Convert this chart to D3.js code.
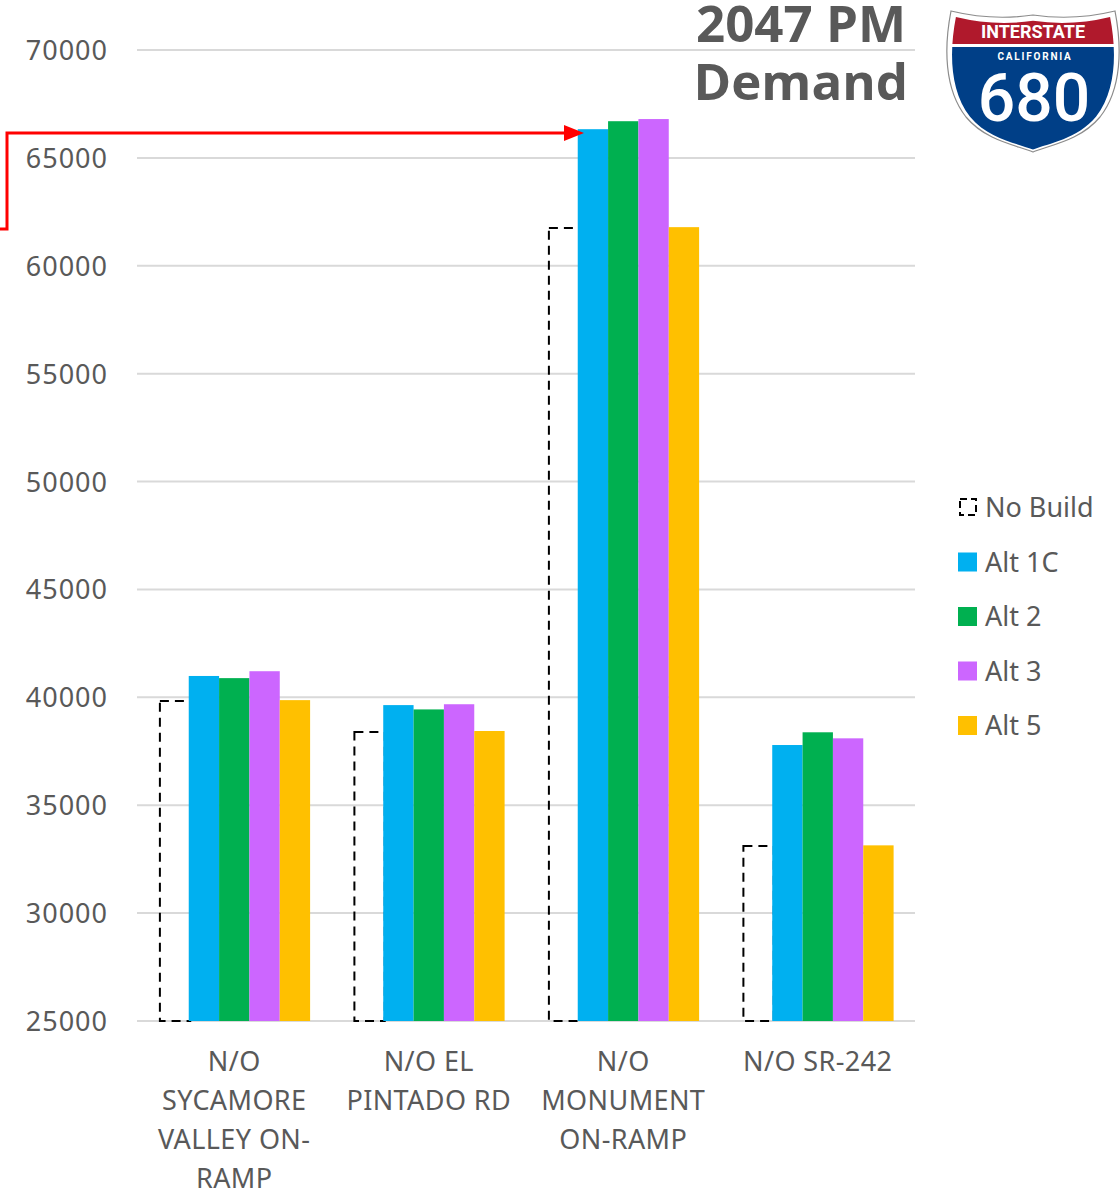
<!DOCTYPE html>
<html>
<head>
<meta charset="utf-8">
<script src="https://d3js.org/d3.v7.min.js"></script>
<style>
	body { margin: 0; background: #fff; }
	svg text { font-family: "Noto Sans", "Open Sans", sans-serif; }
	.tick-label { font-size: 27px; fill: #595959; letter-spacing: 1px; }
	.cat-label { font-size: 27px; fill: #595959; letter-spacing: 0.4px; }
	.legend text { font-size: 27px; fill: #595959; }
	.grid line { stroke: #d9d9d9; stroke-width: 2px; }
</style>
</head>
<body>
<svg width="1120" height="1193"></svg>
<script>
var categories = ["N/O SYCAMORE VALLEY ON-RAMP", "N/O EL PINTADO RD", "N/O MONUMENT ON-RAMP", "N/O SR-242"];
var categoryLines = [
	["N/O", "SYCAMORE", "VALLEY ON-", "RAMP"],
	["N/O EL", "PINTADO RD"],
	["N/O", "MONUMENT", "ON-RAMP"],
	["N/O SR-242"]
];
var seriesNames = ["No Build", "Alt 1C", "Alt 2", "Alt 3", "Alt 5"];
var noBuild = [39830, 38390, 61750, 33110];
var alt1C   = [40990, 39640, 66330, 37790];
var alt2    = [40890, 39440, 66700, 38380];
var alt3    = [41210, 39680, 66800, 38100];
var alt5    = [39870, 38440, 61790, 33140];
var yTicks  = [25000, 30000, 35000, 40000, 45000, 50000, 55000, 60000, 65000, 70000];
var colors  = ["none", "#00b0f0", "#00b050", "#cc66ff", "#ffc000"];

var allSeries = [noBuild, alt1C, alt2, alt3, alt5];

var svg = d3.select("svg");

var y = d3.scaleLinear().domain([25000, 70000]).range([1021, 50]);
var x0 = d3.scaleBand().domain(categories).range([137, 915]).paddingInner(0.22).paddingOuter(0.11);
var x1 = d3.scaleBand().domain(seriesNames).range([0, x0.bandwidth()]);

// gridlines
var grid = svg.append("g").attr("class", "grid");
grid.selectAll("line").data(yTicks).enter().append("line")
	.attr("x1", 137).attr("x2", 915)
	.attr("y1", function(d) { return y(d); })
	.attr("y2", function(d) { return y(d); });

// y labels
svg.append("g").selectAll("text").data(yTicks).enter().append("text")
	.attr("class", "tick-label")
	.attr("x", 108)
	.attr("y", function(d) { return y(d) + 10; })
	.attr("text-anchor", "end")
	.text(function(d) { return d; });

// bars
var groups = svg.append("g").selectAll("g").data(categories).enter().append("g")
	.attr("transform", function(d) { return "translate(" + x0(d) + ",0)"; });

groups.each(function(cat, ci) {
	var g = d3.select(this);
	// no build first (dashed outline), then the filled alternatives on top
	g.append("rect")
		.attr("x", x1("No Build") + 1.5)
		.attr("y", y(noBuild[ci]))
		.attr("width", x1.bandwidth())
		.attr("height", y(25000) - y(noBuild[ci]))
		.attr("fill", "none")
		.attr("stroke", "#000")
		.attr("stroke-width", 2)
		.attr("stroke-dasharray", "9,6");
	seriesNames.forEach(function(s, si) {
		if (si === 0) return;
		var v = allSeries[si][ci];
		g.append("rect")
			.attr("x", x1(s))
			.attr("y", y(v))
			.attr("width", x1.bandwidth())
			.attr("height", y(25000) - y(v))
			.attr("fill", colors[si]);
	});
});

// category labels
svg.append("g").selectAll("text").data(categories).enter().append("text")
	.attr("class", "cat-label")
	.attr("text-anchor", "middle")
	.attr("x", function(d) { return x0(d) + x0.bandwidth() / 2; })
	.attr("y", 1071)
	.each(function(d, i) {
		var t = d3.select(this);
		categoryLines[i].forEach(function(line, li) {
			t.append("tspan")
				.attr("x", x0(d) + x0.bandwidth() / 2)
				.attr("dy", li === 0 ? 0 : 39)
				.text(line);
		});
	});

// legend
var legend = svg.append("g").attr("class", "legend");
seriesNames.forEach(function(s, i) {
	var ly = 507 + i * 54.5;
	if (i === 0) {
		legend.append("rect")
			.attr("x", 960).attr("y", ly - 8).attr("width", 16).attr("height", 16)
			.attr("fill", "none").attr("stroke", "#000").attr("stroke-width", 2)
			.attr("stroke-dasharray", "7,4");
	} else {
		legend.append("rect")
			.attr("x", 958).attr("y", ly - 9).attr("width", 19).attr("height", 19)
			.attr("fill", colors[i]);
	}
	legend.append("text").attr("x", 985).attr("y", ly + 10).text(s);
});

// red arrow
var arrowY = 133;
svg.append("path")
	.attr("d", "M0,229H7V" + arrowY + "H566")
	.attr("fill", "none").attr("stroke", "#ff0000").attr("stroke-width", 3);
svg.append("path")
	.attr("d", "M564," + (arrowY - 8) + "L584," + arrowY + "L564," + (arrowY + 8) + "Z")
	.attr("fill", "#ff0000");

// title
var title = svg.append("text")
	.attr("text-anchor", "end")
	.attr("fill", "#595959")
	.style("font-family", "'Open Sans', sans-serif")
	.style("font-weight", 700)
	.style("font-size", "51px");
title.append("tspan").attr("x", 906).attr("y", 42).text("2047 PM");
title.append("tspan").attr("x", 908).attr("y", 100).text("Demand");

// interstate shield
var shield = svg.append("g").attr("transform", "translate(948,7)");
var shieldPath = "M3,4 Q44,14 85,8 Q126,14 167,4 C174,40 174,82 152,110 C132,134 102,138 85,145 C68,138 38,134 18,110 C-4,82 -4,40 3,4 Z";
shield.append("path").attr("d", shieldPath).attr("fill", "#fff").attr("stroke", "#8c8c8c").attr("stroke-width", 1.2);
var defs = svg.append("defs");
defs.append("clipPath").attr("id", "shieldClip")
	.append("path").attr("d", shieldPath).attr("transform", "translate(85,74) scale(0.94,0.94) translate(-85,-72)");
var inner = shield.append("g").attr("clip-path", "url(#shieldClip)");
inner.append("rect").attr("x", 0).attr("y", 0).attr("width", 170).attr("height", 37).attr("fill", "#b0192c");
inner.append("rect").attr("x", 0).attr("y", 40).attr("width", 170).attr("height", 110).attr("fill", "#003f87");
shield.append("text").attr("x", 85).attr("y", 31).attr("text-anchor", "middle")
	.attr("fill", "#fff").style("font-family", "Roboto, sans-serif").style("font-weight", 700)
	.style("font-size", "18px").text("INTERSTATE");
shield.append("text").attr("x", 87).attr("y", 53).attr("text-anchor", "middle")
	.attr("fill", "#fff").style("font-family", "Roboto, sans-serif").style("font-weight", 700)
	.style("font-size", "10px").style("letter-spacing", "1.8px").text("CALIFORNIA");
shield.append("text").attr("x", 86).attr("y", 114).attr("text-anchor", "middle")
	.attr("fill", "#fff").style("font-family", "Roboto, sans-serif").style("font-weight", 500)
	.style("font-size", "66px").text("680");
</script>
</body>
</html>
